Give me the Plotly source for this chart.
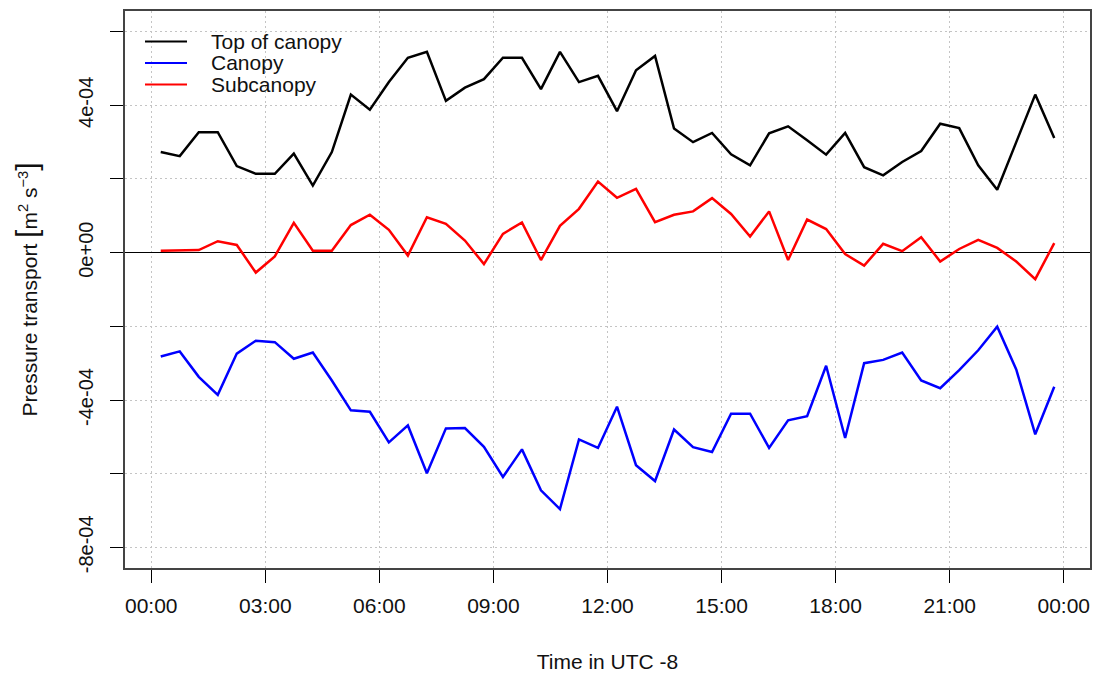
import numpy as np
import pandas as pd
import plotly.graph_objects as go

# Half-hourly averages over a day (values in units of 1e-4 m^2 s^-3)
times = pd.date_range("2000-01-01 00:15", periods=48, freq="30min")

top_of_canopy = [
    2.73, 2.62, 3.27, 3.27, 2.35, 2.14, 2.14, 2.69, 1.82, 2.73,
    4.29, 3.88, 4.63, 5.29, 5.45, 4.12, 4.48, 4.71, 5.29, 5.29,
    4.44, 5.45, 4.63, 4.80, 3.84, 4.95, 5.34, 3.37, 3.00, 3.25,
    2.67, 2.37, 3.24, 3.43, 3.05, 2.66, 3.25, 2.32, 2.10, 2.46,
    2.76, 3.50, 3.38, 2.37, 1.71, 3.00, 4.29, 3.11,
]
canopy = [
    -2.82, -2.68, -3.37, -3.86, -2.74, -2.39, -2.43, -2.88, -2.71, -3.47,
    -4.28, -4.32, -5.15, -4.69, -5.99, -4.77, -4.76, -5.27, -6.09, -5.34,
    -6.45, -6.96, -5.07, -5.30, -4.18, -5.77, -6.20, -4.80, -5.28, -5.41,
    -4.37, -4.37, -5.30, -4.55, -4.44, -3.07, -5.03, -3.00, -2.91, -2.71,
    -3.47, -3.68, -3.19, -2.65, -2.01, -3.17, -4.93, -3.64,
]
subcanopy = [
    0.05, 0.07, 0.07, 0.31, 0.21, -0.54, -0.10, 0.81, 0.05, 0.05,
    0.75, 1.03, 0.62, -0.08, 0.96, 0.78, 0.33, -0.31, 0.51, 0.82,
    -0.20, 0.73, 1.19, 1.93, 1.49, 1.73, 0.83, 1.03, 1.12, 1.48,
    1.05, 0.44, 1.12, -0.20, 0.90, 0.64, -0.04, -0.35, 0.24, 0.04,
    0.42, -0.24, 0.10, 0.35, 0.13, -0.24, -0.72, 0.26,
]
UNIT = 1e-4

series_names = ["Top of canopy", "Canopy", "Subcanopy"]
series_values = [top_of_canopy, canopy, subcanopy]
series_colors = ["#000000", "#0000ff", "#ff0000"]

x_tick_times = pd.date_range("2000-01-01 00:00", "2000-01-02 00:00", freq="3h")
x_tick_labels = ["00:00", "03:00", "06:00", "09:00", "12:00",
                 "15:00", "18:00", "21:00", "00:00"]
y_tick_values = [-8e-4, -4e-4, 0, 4e-4]
y_tick_labels = ["-8e-04", "-4e-04", "0e+00", "4e-04"]
y_minor_values = [-6e-4, -2e-4, 2e-4, 6e-4]

FONT = "Liberation Sans, Arial, sans-serif"

fig = go.Figure()
for name, vals, col in zip(series_names, series_values, series_colors):
    fig.add_trace(go.Scatter(
        x=times, y=np.array(vals) * UNIT, mode="lines", name=name,
        line=dict(color=col, width=2.5), showlegend=False,
    ))

# Legend drawn in the upper-left corner of the panel
W, H = 1097, 675
L, R, T, B = 125, 7, 11, 107
pw, ph = W - L - R, H - T - B


def px_x(p):
    return (p - L) / pw


def px_y(p):
    return (H - B - p) / ph


legend_rows = [41.5, 63, 84.5]
shapes = []
annotations = []
for name, col, ry in zip(series_names, series_colors, legend_rows):
    shapes.append(dict(type="line", xref="paper", yref="paper",
                       x0=px_x(145), x1=px_x(187), y0=px_y(ry), y1=px_y(ry),
                       line=dict(color=col, width=1.8)))
    annotations.append(dict(xref="paper", yref="paper", x=px_x(209), y=px_y(ry),
                            text=name, showarrow=False, xanchor="left",
                            yanchor="middle",
                            font=dict(family=FONT, size=21, color="#111")))

grid_style = dict(showgrid=True, gridcolor="#c4c4c4", gridwidth=1,
                  griddash="2px,3px")
tick_style = dict(ticks="outside", ticklen=13, tickwidth=1, tickcolor="#000")

fig.update_layout(
    width=W, height=H, autosize=False,
    margin=dict(l=L, r=R, t=T, b=B),
    paper_bgcolor="white", plot_bgcolor="white",
    font=dict(family=FONT, size=21, color="#111"),
    shapes=shapes, annotations=annotations,
    xaxis=dict(
        type="date", automargin=False,
        range=["1999-12-31 23:18:36", "2000-01-02 00:41:24"],
        tickvals=x_tick_times, ticktext=x_tick_labels,
        ticklabelstandoff=5,
        tickfont=dict(size=21, color="#111"),
        showline=True, linecolor="#444", linewidth=2, mirror=True,
        zeroline=False,
        title=dict(text="Time in UTC -8", standoff=38,
                   font=dict(size=21, color="#111")),
        **tick_style, **grid_style,
    ),
    yaxis=dict(
        automargin=False,
        range=[-8.56e-4, 6.56e-4],
        tickvals=y_tick_values, ticktext=y_tick_labels,
        tickangle=-90, ticklabelstandoff=9,
        tickfont=dict(size=20, color="#111"),
        minor=dict(tickvals=y_minor_values, **tick_style, **grid_style),
        showline=True, linecolor="#444", linewidth=2, mirror=True,
        zeroline=True, zerolinecolor="#000", zerolinewidth=1,
        title=dict(
            text='Pressure transport <span style="font-size:30px">[</span>'
                 'm<sup>2</sup> s<sup>\u22123</sup>'
                 '<span style="font-size:30px">]</span>',
            standoff=32, font=dict(size=21, color="#111")),
        **tick_style, **grid_style,
    ),
)

fig.write_html("out.html")
